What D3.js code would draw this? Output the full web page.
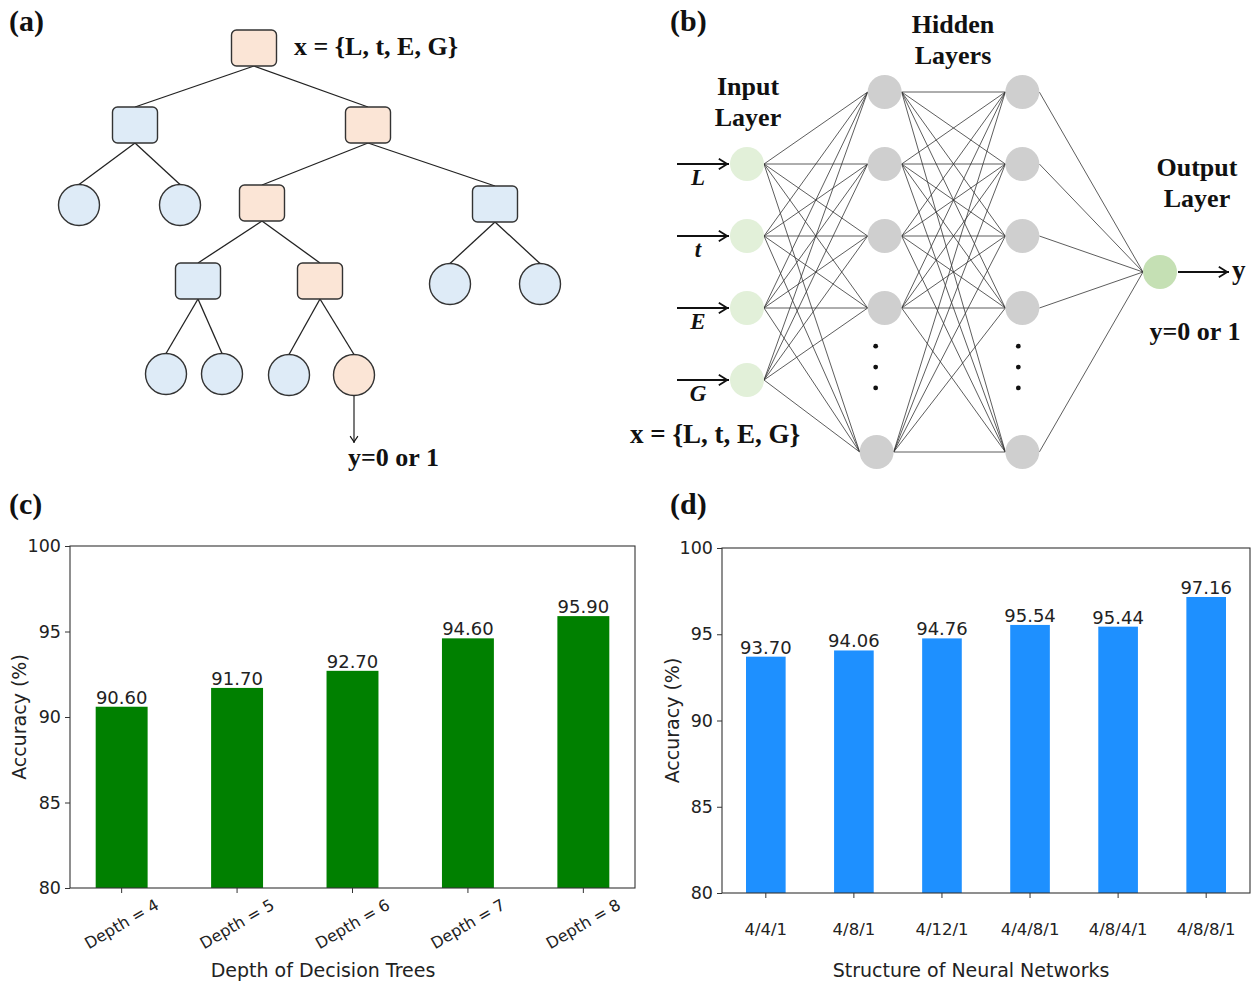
<!DOCTYPE html>
<html>
<head>
<meta charset="utf-8">
<script src="https://cdn.jsdelivr.net/npm/d3@7"></script>
<style>
  body { margin: 0; background: #fff; }
  svg { display: block; }
</style>
</head>
<body>
<svg id="fig" width="1255" height="983"></svg>
<script>
// ---------- data ----------
// (c) decision tree accuracy by maximum depth
const dtCategories = ["Depth = 4", "Depth = 5", "Depth = 6", "Depth = 7", "Depth = 8"];
const dtAccuracy = [90.60, 91.70, 92.70, 94.60, 95.90];

// (d) neural network accuracy by layer structure
const nnCategories = ["4/4/1", "4/8/1", "4/12/1", "4/4/8/1", "4/8/4/1", "4/8/8/1"];
const nnAccuracy = [93.70, 94.06, 94.76, 95.54, 95.44, 97.16];

const accuracyTicks = [80, 85, 90, 95, 100];

// (b) network inputs
const inputFeatures = ["L", "t", "E", "G"];

// (a) decision tree structure: "path" marks the nodes on the decision path
const treeData = {
  id: "root", shape: "rect", tone: "path", children: [
    { id: "a", shape: "rect", tone: "other", children: [
      { id: "a1", shape: "leaf", tone: "other" },
      { id: "a2", shape: "leaf", tone: "other" }
    ]},
    { id: "b", shape: "rect", tone: "path", children: [
      { id: "c", shape: "rect", tone: "path", children: [
        { id: "e", shape: "rect", tone: "other", children: [
          { id: "e1", shape: "leaf", tone: "other" },
          { id: "e2", shape: "leaf", tone: "other" }
        ]},
        { id: "f", shape: "rect", tone: "path", children: [
          { id: "f1", shape: "leaf", tone: "other" },
          { id: "f2", shape: "leaf", tone: "path" }
        ]}
      ]},
      { id: "d", shape: "rect", tone: "other", children: [
        { id: "d1", shape: "leaf", tone: "other" },
        { id: "d2", shape: "leaf", tone: "other" }
      ]}
    ]}
  ]
};

// ---------- layout & style ----------
const serif = "'Liberation Serif', 'Times New Roman', serif";
const sans = "'DejaVu Sans', Verdana, sans-serif";
const ink = "#222";

const svg = d3.select("#fig");
svg.append("rect").attr("width", 1255).attr("height", 983).attr("fill", "#fff");

const defs = svg.append("defs");
function openArrow(id, w, h, sw) {
  defs.append("marker")
    .attr("id", id)
    .attr("viewBox", `0 0 ${w} ${h}`)
    .attr("refX", w).attr("refY", h / 2)
    .attr("markerWidth", w).attr("markerHeight", h)
    .attr("markerUnits", "userSpaceOnUse")
    .attr("orient", "auto")
    .append("path")
    .attr("d", `M${sw},${sw} L${w - sw},${h / 2} L${sw},${h - sw}`)
    .attr("fill", "none").attr("stroke", "#111").attr("stroke-width", sw);
}
openArrow("headBold", 12, 14, 1.8);
openArrow("headThin", 8, 10, 1.1);

function panelLabel(text, x, y) {
  svg.append("text").attr("x", x).attr("y", y)
    .attr("font-family", serif).attr("font-weight", "bold").attr("font-size", 30)
    .attr("fill", "#111").text(text);
}
function boldSerif(g, text, x, y, size, anchor) {
  return g.append("text").attr("x", x).attr("y", y)
    .attr("font-family", serif).attr("font-weight", "bold").attr("font-size", size)
    .attr("text-anchor", anchor || "start").attr("fill", "#111").text(text);
}

// ---------- (a) decision tree ----------
panelLabel("(a)", 9, 31);
{
  const g = svg.append("g");
  const treePos = {
    root: [254, 48],
    a: [135, 125], b: [368, 125],
    a1: [79, 205], a2: [180, 205], c: [262, 203], d: [495, 204],
    e: [198, 281], f: [320, 281], d1: [450, 284], d2: [540, 284],
    e1: [166, 374], e2: [222, 374], f1: [289, 375], f2: [354, 375]
  };
  const rectW = 45, rectH = 36, leafR = 20.5;
  const toneFill = { path: "#fbe5d6", other: "#deebf7" };
  const px = d3.scaleLinear().domain([0, 1]).range([0, 1]);
  const py = d3.scaleLinear().domain([0, 1]).range([0, 1]);

  const root = d3.hierarchy(treeData);
  root.each(n => { n.x = px(treePos[n.data.id][0]); n.y = py(treePos[n.data.id][1]); });
  const half = n => n.data.shape === "rect" ? rectH / 2 : leafR;

  g.selectAll("line.edge").data(root.links()).join("line")
    .attr("x1", l => l.source.x).attr("y1", l => l.source.y + half(l.source))
    .attr("x2", l => l.target.x).attr("y2", l => l.target.y - half(l.target))
    .attr("stroke", "#222").attr("stroke-width", 1.3);

  const nodes = root.descendants();
  g.selectAll("rect.node").data(nodes.filter(n => n.data.shape === "rect")).join("rect")
    .attr("x", n => n.x - rectW / 2).attr("y", n => n.y - rectH / 2)
    .attr("width", rectW).attr("height", rectH).attr("rx", 5)
    .attr("fill", n => toneFill[n.data.tone]).attr("stroke", "#333").attr("stroke-width", 1.4);
  g.selectAll("circle.node").data(nodes.filter(n => n.data.shape === "leaf")).join("circle")
    .attr("cx", n => n.x).attr("cy", n => n.y).attr("r", leafR)
    .attr("fill", n => toneFill[n.data.tone]).attr("stroke", "#333").attr("stroke-width", 1.4);

  // output arrow from the reached leaf
  const reached = nodes.find(n => n.data.id === "f2");
  g.append("line")
    .attr("x1", reached.x).attr("y1", reached.y + leafR)
    .attr("x2", reached.x).attr("y2", reached.y + 68)
    .attr("stroke", "#222").attr("stroke-width", 1.2).attr("marker-end", "url(#headThin)");

  boldSerif(g, "x = {L, t, E, G}", 294, 55, 26);
  boldSerif(g, "y=0 or 1", 348, 466, 26);
}

// ---------- (b) neural network ----------
panelLabel("(b)", 670, 31);
{
  const g = svg.append("g");
  const layerX = d3.scalePoint().domain(["input", "hidden1", "hidden2", "output"]).range([747, 1160]);
  const slotY = d3.scaleLinear().domain([0, 1]).range([92, 164]);
  const nodeR = 17;
  const layers = [
    { name: "input", slots: [1, 2, 3, 4], fill: "#e2f0d9" },
    { name: "hidden1", slots: [0, 1, 2, 3, 5], fill: "#cfcfcf", lastDx: -8 },
    { name: "hidden2", slots: [0, 1, 2, 3, 5], fill: "#cfcfcf", lastDx: 0 },
    { name: "output", slots: [2.5], fill: "#c5e0b4" }
  ];
  layers.forEach(L => {
    L.nodes = L.slots.map((s, i) => ({
      x: layerX(L.name) + (i === L.slots.length - 1 && L.lastDx ? L.lastDx : 0),
      y: slotY(s), fill: L.fill
    }));
  });

  // full connections between consecutive layers
  const links = [];
  for (let k = 0; k < layers.length - 1; k++) {
    layers[k].nodes.forEach(s => layers[k + 1].nodes.forEach(t => links.push({ s, t })));
  }
  g.selectAll("line.link").data(links).join("line")
    .attr("x1", d => d.s.x + nodeR).attr("y1", d => d.s.y)
    .attr("x2", d => d.t.x - nodeR).attr("y2", d => d.t.y)
    .attr("stroke", "#333").attr("stroke-width", 0.8);

  const allNodes = layers.flatMap(L => L.nodes);
  g.selectAll("circle.unit").data(allNodes).join("circle")
    .attr("cx", d => d.x).attr("cy", d => d.y).attr("r", nodeR)
    .attr("fill", d => d.fill);

  // ellipsis in the hidden layers
  const dotSlots = [3.53, 3.82, 4.11];
  ["hidden1", "hidden2"].forEach((name, j) => {
    g.selectAll(null).data(dotSlots).join("circle")
      .attr("cx", layerX(name) - (j === 0 ? 9 : 4)).attr("cy", s => slotY(s)).attr("r", 2.4)
      .attr("fill", "#111");
  });

  // input arrows and feature symbols
  const inputs = layers[0].nodes;
  inputFeatures.forEach((f, i) => {
    const n = inputs[i];
    g.append("line")
      .attr("x1", n.x - 70).attr("y1", n.y).attr("x2", n.x - 18).attr("y2", n.y)
      .attr("stroke", "#111").attr("stroke-width", 1.8).attr("marker-end", "url(#headBold)");
    g.append("text").attr("x", n.x - 49).attr("y", n.y + 21)
      .attr("font-family", serif).attr("font-weight", "bold").attr("font-style", "italic")
      .attr("font-size", 23).attr("text-anchor", "middle").attr("fill", "#111").text(f);
  });

  // output arrow
  const out = layers[3].nodes[0];
  g.append("line")
    .attr("x1", out.x + nodeR + 1).attr("y1", out.y).attr("x2", out.x + 69).attr("y2", out.y)
    .attr("stroke", "#111").attr("stroke-width", 1.8).attr("marker-end", "url(#headBold)");
  boldSerif(g, "y", out.x + 72, out.y + 7, 27);

  boldSerif(g, "Hidden", 953, 33, 26, "middle");
  boldSerif(g, "Layers", 953, 64, 26, "middle");
  boldSerif(g, "Input", 748, 95, 26, "middle");
  boldSerif(g, "Layer", 748, 126, 26, "middle");
  boldSerif(g, "Output", 1197, 176, 26, "middle");
  boldSerif(g, "Layer", 1197, 207, 26, "middle");
  boldSerif(g, "y=0 or 1", 1195, 340, 26, "middle");
  boldSerif(g, "x = {L, t, E, G}", 630, 443, 27);
}

// ---------- bar chart panels ----------
function barPanel(cfg) {
  const n = cfg.categories.length;
  const g = svg.append("g");
  const x = d3.scaleBand().domain(cfg.categories)
    .range([cfg.left, cfg.right])
    .paddingInner(0.55).paddingOuter(0.05 * (n - 1 + 0.45));
  const y = d3.scaleLinear().domain([80, 100]).range([cfg.bottom, cfg.top]);

  g.selectAll("rect.bar").data(cfg.categories).join("rect")
    .attr("x", d => x(d)).attr("width", x.bandwidth())
    .attr("y", (d, i) => y(cfg.values[i]))
    .attr("height", (d, i) => y(80) - y(cfg.values[i]))
    .attr("fill", cfg.color);

  g.selectAll("text.val").data(cfg.categories).join("text")
    .attr("x", d => x(d) + x.bandwidth() / 2)
    .attr("y", (d, i) => y(cfg.values[i]) - 3)
    .attr("text-anchor", "middle").attr("font-family", sans).attr("font-size", 18)
    .attr("fill", ink).text((d, i) => cfg.values[i].toFixed(2));

  // frame
  g.append("rect").attr("x", cfg.left).attr("y", cfg.top)
    .attr("width", cfg.right - cfg.left).attr("height", cfg.bottom - cfg.top)
    .attr("fill", "none").attr("stroke", "#333").attr("stroke-width", 1.1);

  const ya = g.append("g").attr("transform", `translate(${cfg.left},0)`)
    .call(d3.axisLeft(y).tickValues(accuracyTicks).tickSize(5).tickPadding(4).tickFormat(d3.format("d")));
  ya.select(".domain").remove();
  ya.attr("font-family", sans).attr("font-size", 17.5);
  ya.selectAll("line").attr("stroke", "#333");
  ya.selectAll("text").attr("fill", ink);

  const xa = g.append("g").attr("transform", `translate(0,${cfg.bottom})`)
    .call(d3.axisBottom(x).tickSize(5));
  xa.select(".domain").remove();
  xa.attr("font-family", sans).attr("font-size", cfg.tickSize);
  xa.selectAll("line").attr("stroke", "#333");
  xa.selectAll("text").attr("fill", ink);
  if (cfg.rotate) {
    xa.selectAll("text")
      .attr("y", null).attr("dy", null)
      .attr("dominant-baseline", "central")
      .attr("transform", `translate(0,${cfg.labelOffset}) rotate(-30)`);
  } else {
    xa.selectAll("text").attr("dy", null).attr("y", cfg.labelOffset);
  }

  g.append("text")
    .attr("x", cfg.xLabelX).attr("y", 977)
    .attr("text-anchor", "middle").attr("font-family", sans).attr("font-size", 19)
    .attr("fill", ink).text(cfg.xLabel);
  g.append("text")
    .attr("transform", `translate(${cfg.yLabelX},${(cfg.top + cfg.bottom) / 2}) rotate(-90)`)
    .attr("text-anchor", "middle").attr("dominant-baseline", "central")
    .attr("font-family", sans).attr("font-size", 19)
    .attr("fill", ink).text("Accuracy (%)");
}

panelLabel("(c)", 9, 514);
barPanel({
  categories: dtCategories, values: dtAccuracy, color: "#008000",
  left: 70, right: 635, top: 546, bottom: 888,
  rotate: true, labelOffset: 36, tickSize: 16,
  xLabel: "Depth of Decision Trees", xLabelX: 323, yLabelX: 19
});

panelLabel("(d)", 670, 514);
barPanel({
  categories: nnCategories, values: nnAccuracy, color: "#1e90ff",
  left: 722, right: 1250, top: 548, bottom: 893,
  rotate: false, labelOffset: 42, tickSize: 16.5,
  xLabel: "Structure of Neural Networks", xLabelX: 971, yLabelX: 672
});
</script>
</body>
</html>
